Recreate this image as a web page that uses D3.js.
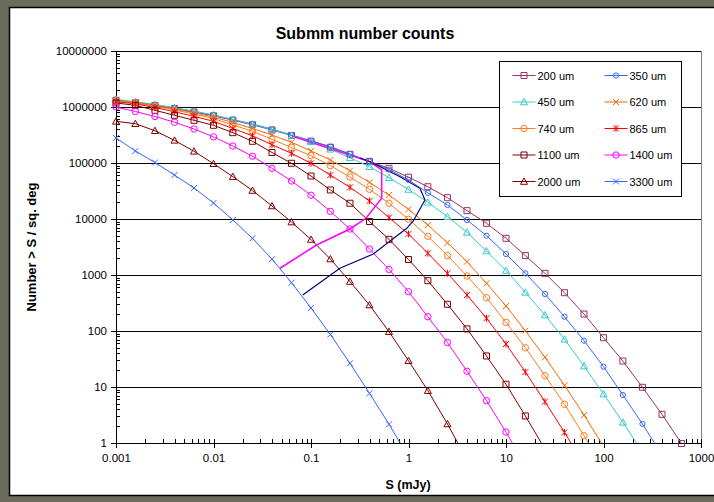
<!DOCTYPE html>
<html>
<head>
<meta charset="utf-8">
<script src="https://cdn.jsdelivr.net/npm/d3@7"></script>
<style>
  body { margin: 0; background: #6b6b5b; }
  svg { display: block; font-family: "Liberation Sans", Arial, sans-serif; }
</style>
</head>
<body>
<div class="chart"></div>
<script>
// flux grid (mJy), 0.2 dex steps
var fluxes = [0.001, 0.00158, 0.00251, 0.00398, 0.00631, 0.01, 0.0158, 0.0251, 0.0398, 0.0631,
  0.1, 0.158, 0.251, 0.398, 0.631, 1, 1.58, 2.51, 3.98, 6.31,
  10, 15.8, 25.1, 39.8, 63.1, 100, 158, 251, 398, 631, 1000];

var seriesNames = ["200 um", "350 um", "450 um", "620 um", "740 um", "865 um", "1100 um", "1400 um", "2000 um", "3300 um"];

// number > S per sq. deg
var counts200 = [1320000, 1190000, 1060000, 940000, 814000, 697000, 581000, 481000, 389000, 310000,
  245000, 191000, 143000, 107000, 80400, 55800, 37700, 24000, 14100, 8380,
  4520, 2220, 1070, 483, 201, 75.9, 29.1, 9.88, 3.25, 0.98, 0.29];
var counts350 = [1340000, 1210000, 1090000, 960000, 838000, 714000, 598000, 497000, 402000, 316000,
  250000, 196000, 145000, 106000, 76500, 49700, 29300, 17800, 9600, 5030,
  2370, 1070, 458, 180, 67.2, 23.1, 7.2, 2.19, 0.61];
var counts450 = [1370000, 1240000, 1110000, 968000, 841000, 720000, 598000, 491000, 397000, 310000,
  240000, 176000, 124000, 85900, 54700, 33700, 19900, 11000, 5790, 2680,
  1200, 491, 193, 71.1, 23.7, 7.5, 2.34, 0.69];
var counts620 = [1310000, 1200000, 1060000, 921000, 788000, 663000, 529000, 413000, 316000, 234000,
  164000, 113000, 72900, 45200, 26800, 14900, 7810, 3770, 1730, 711,
  280, 101, 33.9, 10.7, 3.16, 0.87];
var counts740 = [1280000, 1180000, 1030000, 884000, 750000, 623000, 477000, 369000, 265000, 189000,
  135000, 89500, 56200, 33900, 19100, 9880, 4910, 2220, 960, 393,
  143, 50.3, 15.9, 4.91, 1.35, 0.36];
var counts865 = [1240000, 1140000, 980000, 821000, 682000, 555000, 413000, 306000, 212000, 149000,
  98800, 61000, 36800, 21000, 10600, 5400, 2440, 1070, 439, 169,
  58.6, 18.5, 5.47, 1.55, 0.41];
var counts1100 = [1180000, 1070000, 873000, 711000, 579000, 471000, 348000, 244000, 154000, 98800,
  58600, 33000, 19100, 9020, 4340, 1890, 791, 300, 109, 35.8,
  11.2, 3.04, 0.78];
var counts1400 = [1000000, 831000, 677000, 535000, 405000, 293000, 201000, 132000, 80400, 47700,
  26500, 13700, 6630, 2910, 1260, 503, 180, 62.3, 19.1, 5.7,
  1.57, 0.39];
var counts2000 = [555000, 503000, 377000, 254000, 162000, 97200, 57000, 32300, 17100, 8840,
  4310, 1930, 765, 291, 97.2, 29.5, 8.6, 2.19, 0.5];
var counts3300 = [280000, 164000, 102000, 61000, 35800, 19300, 9600, 4520, 1920, 729,
  258, 86.6, 26.5, 7.7, 2.16, 0.56];

// two extra curves joining points across wavelengths
var magentaLimitS = [0.0481, 0.114, 0.251, 0.366, 0.531, 0.531, 0.403, 0.0638];
var magentaLimitN = [1320, 3430, 6630, 10300, 23400, 75000, 105000, 304000];
var navyLimitS = [0.0822, 0.198, 0.435, 0.959, 1.12, 1.476, 1.31, 0.819, 0.403, 0.318];
var navyLimitN = [439, 1320, 2370, 6820, 9210, 21900, 35300, 57000, 105000, 123000];

var xTicks = [0.001, 0.01, 0.1, 1, 10, 100, 1000];
var yTicks = [1, 10, 100, 1000, 10000, 100000, 1000000, 10000000];

var allCounts = [counts200, counts350, counts450, counts620, counts740, counts865, counts1100, counts1400, counts2000, counts3300];
var colors = ["#993366", "#3366ff", "#33cccc", "#ff6600", "#ff7a1a", "#ff0000", "#800000", "#ff00ff", "#800000", "#3366ff"];
var markers = ["square", "smallcircle", "triangle", "x", "circle", "star", "square", "circle", "triangle", "x"];

var markerPaths = {
  square: "M-3,-3h6v6h-6z",
  circle: "M3.2,0A3.2,3.2 0 1,1 -3.2,0A3.2,3.2 0 1,1 3.2,0",
  smallcircle: "M2.6,0A2.6,2.6 0 1,1 -2.6,0A2.6,2.6 0 1,1 2.6,0",
  triangle: "M0,-3.5L3.5,2.8L-3.5,2.8Z",
  x: "M-3,-3L3,3M-3,3L3,-3",
  star: "M-3,-3L3,3M-3,3L3,-3M0,-3.5V3.5"
};

var svgWidth = 714, svgHeight = 502;
var margin = { top: 51, left: 116 };
var width = 585, height = 392;

var svg = d3.select(".chart").append("svg")
  .attr("width", svgWidth)
  .attr("height", svgHeight);

svg.append("rect")
  .attr("width", svgWidth).attr("height", svgHeight)
  .attr("fill", "#6b6b5b");

// chart area
svg.append("rect")
  .attr("x", 9.5).attr("y", 7.5)
  .attr("width", 720).attr("height", 488)
  .attr("fill", "#fff")
  .attr("stroke", "#000")
  .attr("stroke-width", 1.5);

svg.append("text")
  .attr("x", 365).attr("y", 39)
  .attr("text-anchor", "middle")
  .attr("font-size", "16px")
  .attr("font-weight", "bold")
  .text("Submm number counts");

var chartGroup = svg.append("g")
  .attr("transform", `translate(${margin.left}, ${margin.top})`);

var xLogScale = d3.scaleLog().domain([0.001, 1000]).range([0, width]);
var yLogScale = d3.scaleLog().domain([1, 10000000]).range([height, 0]);

chartGroup.append("clipPath").attr("id", "plotclip")
  .append("rect").attr("x", 0).attr("y", 0).attr("width", width).attr("height", height);

// gridlines
chartGroup.selectAll(".grid")
  .data(yTicks)
  .enter()
  .append("line")
  .attr("x1", 0).attr("x2", width)
  .attr("y1", d => yLogScale(d)).attr("y2", d => yLogScale(d))
  .attr("stroke", "#000")
  .attr("shape-rendering", "crispEdges");

chartGroup.append("line")
  .attr("x1", width).attr("x2", width)
  .attr("y1", 0).attr("y2", height)
  .attr("stroke", "#808080")
  .attr("shape-rendering", "crispEdges");

// minor tick values
var xMinor = [], yMinor = [];
xTicks.slice(0, -1).forEach(function(t) {
  for (var k = 2; k < 10; k++) xMinor.push(t * k);
});
yTicks.slice(0, -1).forEach(function(t) {
  for (var k = 2; k < 10; k++) yMinor.push(t * k);
});

var xAxis = d3.axisBottom(xLogScale).tickValues(xTicks).tickFormat(d => String(d)).tickSize(5).tickPadding(6);
var yAxis = d3.axisLeft(yLogScale).tickValues(yTicks).tickFormat(d => String(d)).tickSize(5).tickPadding(4);

var xg = chartGroup.append("g")
  .attr("transform", `translate(0, ${height})`)
  .call(xAxis);
xg.selectAll(".tick line").attr("y1", -4);

var yg = chartGroup.append("g")
  .call(yAxis);

chartGroup.append("g")
  .attr("transform", `translate(0, ${height})`)
  .call(d3.axisBottom(xLogScale).tickValues(xMinor).tickFormat("").tickSize(-4))
  .select(".domain").remove();

chartGroup.append("g")
  .call(d3.axisLeft(yLogScale).tickValues(yMinor).tickFormat("").tickSize(-4))
  .select(".domain").remove();

chartGroup.selectAll(".domain, .tick line")
  .attr("stroke", "#000")
  .attr("shape-rendering", "crispEdges");
chartGroup.selectAll(".tick text")
  .attr("font-size", "11.5px")
  .attr("font-family", "Liberation Sans, Arial, sans-serif")
  .attr("fill", "#000");

// series
var line = d3.line()
  .x(d => xLogScale(d[0]))
  .y(d => yLogScale(d[1]));

var plotArea = chartGroup.append("g").attr("clip-path", "url(#plotclip)");
var markerArea = chartGroup.append("g");

allCounts.forEach(function(vals, i) {
  var pts = vals.map((v, j) => [fluxes[j], v]);
  plotArea.append("path")
    .datum(pts)
    .attr("d", line)
    .attr("fill", "none")
    .attr("stroke", colors[i])
    .attr("stroke-width", 1);
  markerArea.selectAll(".m" + i)
    .data(pts.filter(d => d[1] >= 0.9))
    .enter()
    .append("path")
    .attr("transform", d => `translate(${xLogScale(d[0])}, ${yLogScale(d[1])})`)
    .attr("d", markerPaths[markers[i]])
    .attr("fill", "none")
    .attr("stroke", colors[i])
    .attr("stroke-width", 1);
});

plotArea.append("path")
  .datum(magentaLimitS.map((s, j) => [s, magentaLimitN[j]]))
  .attr("d", line)
  .attr("fill", "none")
  .attr("stroke", "#ff00ff")
  .attr("stroke-width", 1.5);

plotArea.append("path")
  .datum(navyLimitS.map((s, j) => [s, navyLimitN[j]]))
  .attr("d", line)
  .attr("fill", "none")
  .attr("stroke", "#000080")
  .attr("stroke-width", 1.2);

// legend
var legend = svg.append("g").attr("transform", "translate(499.5, 61.5)");
legend.append("rect")
  .attr("width", 182).attr("height", 135)
  .attr("fill", "#fff")
  .attr("stroke", "#000");

seriesNames.forEach(function(name, i) {
  var col = i % 2, row = Math.floor(i / 2);
  var g = legend.append("g")
    .attr("transform", `translate(${13 + col * 92}, ${14 + row * 26.5})`);
  g.append("line")
    .attr("x1", 0).attr("x2", 23)
    .attr("stroke", colors[i]);
  g.append("path")
    .attr("transform", "translate(11.5, 0)")
    .attr("d", markerPaths[markers[i]])
    .attr("fill", "none")
    .attr("stroke", colors[i]);
  g.append("text")
    .attr("x", 25).attr("y", 4)
    .attr("font-size", "11px")
    .text(name);
});

// axis titles
svg.append("text")
  .attr("transform", "translate(36, 247) rotate(-90)")
  .attr("text-anchor", "middle")
  .attr("font-size", "13px")
  .attr("font-weight", "bold")
  .text("Number > S / sq. deg");

svg.append("text")
  .attr("x", 408).attr("y", 489)
  .attr("text-anchor", "middle")
  .attr("font-size", "12.5px")
  .attr("font-weight", "bold")
  .text("S (mJy)");
</script>
</body>
</html>
